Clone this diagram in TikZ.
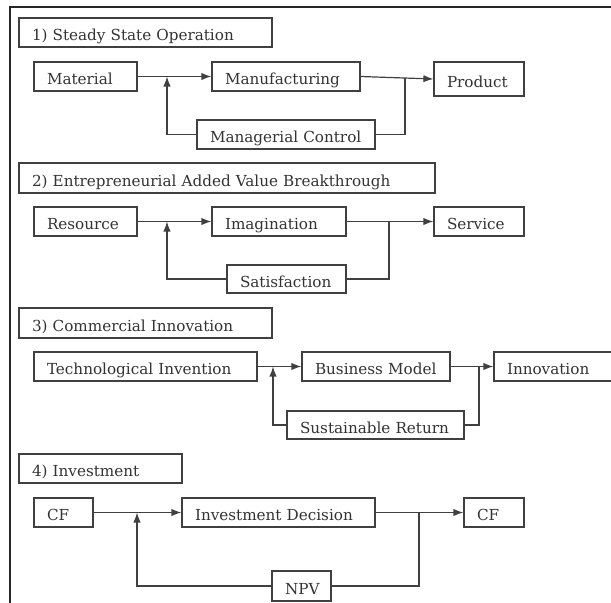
\documentclass[tikz,border=0pt]{standalone}
\usepackage{fontspec}
\setmainfont{DejaVu Serif}
\usetikzlibrary{arrows.meta}
\tikzset{
  bx/.style={draw=black!75, line width=0.9pt, inner xsep=9.75pt, inner ysep=0pt,
    align=left, font=\fontsize{11.4}{13}\selectfont, text=black!80,
    text height=12.6pt, text depth=0pt},
  ln/.style={draw=black!75, line width=0.9pt},
  arr/.style={ln, -{Latex[length=7.5pt,width=5.5pt]}},
  frame/.style={draw=black!85, line width=2pt},
}
\hfuzz=200pt
\newcommand\mybox[6]{%
  \pgfmathsetmacro\mytw{(#4-#2-26)*0.75}%
  \pgfmathsetmacro\mymh{(#5-#3)*0.75}%
  \node[bx, text width=\mytw pt, minimum height=\mymh pt] (#1) at ({(#2+#4)/2},{(#3+#5)/2}) {\mbox{#6}};}
\begin{document}
\begin{tikzpicture}[x=0.75pt,y=-0.75pt]
\clip (0,0) rectangle (611,603);
\fill[white] (0,0) rectangle (611,603);
\draw[frame] (10,604) -- (10,7) -- (612,7);
% section 1
\mybox{t1}{19}{18}{272}{47}{1) Steady State Operation}
\mybox{mat}{34}{62}{137}{91}{Material}
\mybox{man}{212}{62}{360}{91}{Manufacturing}
\mybox{prod}{434}{62}{524}{96}{Product}
\mybox{mc}{197}{120}{375}{149}{Managerial Control}
\coordinate (j1a) at (167,76.5);
\coordinate (j1b) at (405,77.7);
\draw[arr] (mat.east) -- (man.west);
\draw[arr] (man.east) -- (prod.west);
\draw[arr] (mc.west) -| (j1a);
\draw[ln] (mc.east) -| (j1b);
% section 2
\mybox{t2}{19}{163}{435}{193}{2) Entrepreneurial Added Value Breakthrough}
\mybox{res}{34}{207}{137}{236}{Resource}
\mybox{ima}{212}{207}{346}{236}{Imagination}
\mybox{srv}{434}{207}{524}{236}{Service}
\mybox{sat}{227}{265}{346}{293}{Satisfaction}
\coordinate (j2a) at (167,221.5);
\coordinate (j2b) at (389,221.5);
\draw[arr] (res.east) -- (ima.west);
\draw[arr] (ima.east) -- (srv.west);
\draw[arr] (sat.west) -| (j2a);
\draw[ln] (sat.east) -| (j2b);
% section 3
\mybox{t3}{19}{308}{272}{338}{3) Commercial Innovation}
\mybox{tec}{34}{352}{257}{381}{Technological Invention}
\mybox{bm}{302}{352}{450}{381}{Business Model}
\mybox{inn}{494}{352}{624}{381}{Innovation}
\mybox{sr}{287}{411}{464}{439}{Sustainable Return}
\coordinate (j3a) at (273,366.5);
\coordinate (j3b) at (479,366.5);
\draw[arr] (tec.east) -- (bm.west);
\draw[arr] (bm.east) -- (inn.west);
\draw[arr] (sr.west) -| (j3a);
\draw[ln] (sr.east) -| (j3b);
% section 4
\mybox{t4}{19}{454}{182}{483}{4) Investment}
\mybox{cf1}{34}{498}{93}{527}{CF}
\mybox{inv}{182}{498}{375}{527}{Investment Decision}
\mybox{cf2}{464}{498}{524}{527}{CF}
\mybox{npv}{272}{571}{331}{601}{NPV}
\coordinate (j4a) at (137,512.5);
\coordinate (j4b) at (419,512.5);
\draw[arr] (cf1.east) -- (inv.west);
\draw[arr] (inv.east) -- (cf2.west);
\draw[arr] (npv.west) -| (j4a);
\draw[ln] (npv.east) -| (j4b);
\end{tikzpicture}
\end{document}
